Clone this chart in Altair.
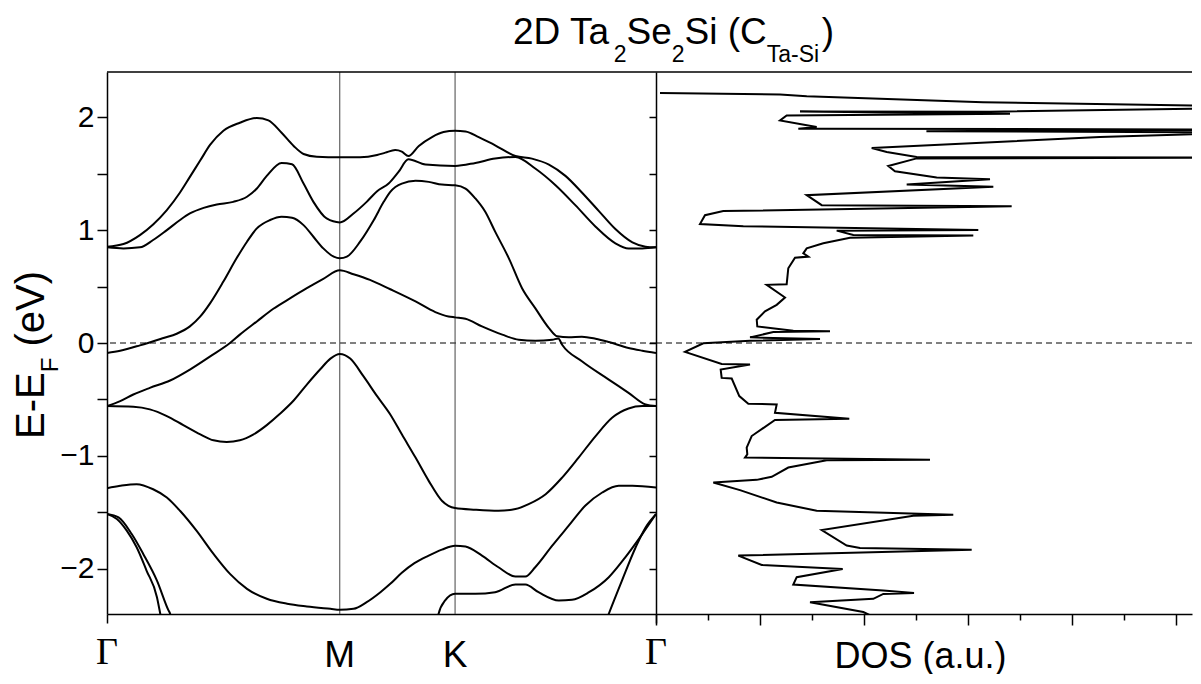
import altair as alt
import pandas as pd

# ---------------- data ----------------
K_M, K_K = 0.424, 0.634          # high-symmetry points on the path (Gamma=0, Gamma=1)

b1_k = [0, 0.030, 0.060, 0.084, 0.109, 0.133, 0.151, 0.170, 0.188, 0.212, 0.242, 0.273, 0.294, 0.318, 0.340, 0.358, 0.382, 0.424, 0.461, 0.492, 0.507, 0.525, 0.537, 0.549, 0.568, 0.592, 0.613, 0.634, 0.653, 0.677, 0.707, 0.744, 0.774, 0.805, 0.835, 0.865, 0.896, 0.926, 0.957, 0.981, 1.0]
b1_e = [0.853, 0.877, 0.956, 1.050, 1.177, 1.333, 1.471, 1.618, 1.756, 1.880, 1.951, 1.992, 1.971, 1.862, 1.745, 1.674, 1.650, 1.645, 1.645, 1.665, 1.686, 1.709, 1.695, 1.656, 1.745, 1.824, 1.868, 1.880, 1.874, 1.824, 1.751, 1.656, 1.633, 1.580, 1.480, 1.333, 1.168, 1.009, 0.891, 0.853, 0.847]

b2_k = [0, 0.030, 0.060, 0.084, 0.109, 0.133, 0.151, 0.176, 0.200, 0.230, 0.255, 0.273, 0.291, 0.318, 0.337, 0.358, 0.376, 0.400, 0.424, 0.449, 0.473, 0.492, 0.513, 0.531, 0.549, 0.580, 0.634, 0.671, 0.707, 0.744, 0.780, 0.817, 0.853, 0.890, 0.926, 0.950, 0.975, 1.0]
b2_e = [0.847, 0.838, 0.847, 0.912, 1.000, 1.089, 1.147, 1.197, 1.227, 1.250, 1.295, 1.368, 1.480, 1.595, 1.583, 1.412, 1.250, 1.103, 1.068, 1.147, 1.250, 1.344, 1.412, 1.515, 1.627, 1.580, 1.568, 1.595, 1.633, 1.648, 1.545, 1.397, 1.221, 1.030, 0.883, 0.838, 0.838, 0.847]

b3_k = [0, 0.024, 0.060, 0.103, 0.127, 0.151, 0.170, 0.188, 0.212, 0.236, 0.255, 0.273, 0.297, 0.318, 0.337, 0.358, 0.376, 0.394, 0.413, 0.424, 0.437, 0.461, 0.486, 0.504, 0.516, 0.537, 0.562, 0.586, 0.610, 0.634, 0.653, 0.671, 0.689, 0.707, 0.732, 0.756, 0.780, 0.805, 0.820, 0.841, 0.865, 0.890, 0.914, 0.950, 0.975, 1.0]
b3_e = [-0.088, -0.068, -0.021, 0.044, 0.082, 0.147, 0.235, 0.353, 0.544, 0.750, 0.897, 1.015, 1.089, 1.118, 1.109, 1.044, 0.941, 0.838, 0.765, 0.750, 0.765, 0.897, 1.089, 1.250, 1.339, 1.412, 1.436, 1.427, 1.403, 1.397, 1.368, 1.280, 1.162, 0.986, 0.750, 0.485, 0.309, 0.132, 0.059, 0.050, 0.056, 0.038, 0.009, -0.044, -0.068, -0.088]

b4_k = [0, 0.024, 0.048, 0.078, 0.115, 0.151, 0.188, 0.224, 0.242, 0.273, 0.303, 0.334, 0.364, 0.394, 0.424, 0.449, 0.479, 0.516, 0.562, 0.598, 0.622, 0.634, 0.653, 0.683, 0.720, 0.750, 0.780, 0.811, 0.822, 0.829, 0.865, 0.914, 0.950, 0.981, 1.0]
b4_e = [-0.559, -0.515, -0.456, -0.397, -0.332, -0.235, -0.118, 0.0, 0.074, 0.191, 0.303, 0.397, 0.485, 0.568, 0.644, 0.609, 0.559, 0.476, 0.368, 0.274, 0.235, 0.227, 0.215, 0.147, 0.074, 0.029, 0.021, 0.029, 0.040, -0.015, -0.162, -0.324, -0.441, -0.544, -0.559]

b5_k = [0, 0.048, 0.078, 0.109, 0.139, 0.170, 0.194, 0.218, 0.242, 0.267, 0.291, 0.315, 0.340, 0.364, 0.388, 0.407, 0.424, 0.443, 0.467, 0.492, 0.516, 0.537, 0.562, 0.586, 0.610, 0.622, 0.634, 0.671, 0.713, 0.744, 0.768, 0.799, 0.829, 0.859, 0.890, 0.920, 0.950, 0.975, 1.0]
b5_e = [-0.559, -0.565, -0.588, -0.647, -0.727, -0.809, -0.862, -0.877, -0.862, -0.809, -0.727, -0.627, -0.509, -0.368, -0.235, -0.138, -0.097, -0.138, -0.294, -0.471, -0.633, -0.809, -1.015, -1.221, -1.397, -1.442, -1.462, -1.477, -1.486, -1.471, -1.427, -1.339, -1.192, -1.015, -0.824, -0.662, -0.580, -0.559, -0.559]

b6_k = [0, 0.024, 0.054, 0.084, 0.109, 0.133, 0.163, 0.194, 0.224, 0.255, 0.291, 0.328, 0.364, 0.407, 0.424, 0.449, 0.473, 0.498, 0.516, 0.537, 0.560, 0.585, 0.610, 0.634, 0.653, 0.683, 0.713, 0.744, 0.762, 0.780, 0.811, 0.841, 0.871, 0.902, 0.932, 0.957, 1.0]
b6_e = [-1.286, -1.265, -1.250, -1.295, -1.368, -1.486, -1.662, -1.868, -2.045, -2.177, -2.265, -2.309, -2.333, -2.354, -2.362, -2.354, -2.295, -2.207, -2.133, -2.035, -1.950, -1.885, -1.830, -1.795, -1.803, -1.883, -1.986, -2.068, -2.068, -1.986, -1.795, -1.618, -1.442, -1.324, -1.265, -1.265, -1.280]

b7_k = [0.600, 0.604, 0.616, 0.634, 0.671, 0.707, 0.744, 0.762, 0.786, 0.823, 0.847, 0.878, 0.914, 0.944, 0.975, 1.0]
b7_e = [-2.500, -2.398, -2.280, -2.221, -2.221, -2.207, -2.139, -2.139, -2.207, -2.280, -2.274, -2.207, -2.074, -1.898, -1.692, -1.515]

b8_k = [0.906, 0.914, 0.938, 0.963, 0.981, 1.0]
b8_e = [-2.500, -2.398, -2.104, -1.809, -1.633, -1.515]

b9_k = [0, 0.018, 0.036, 0.054, 0.072, 0.091, 0.097, 0.101]
b9_e = [-1.515, -1.559, -1.662, -1.809, -2.015, -2.251, -2.398, -2.500]

b10_k = [0, 0.021, 0.045, 0.066, 0.091, 0.112, 0.115, 0.118]
b10_e = [-1.515, -1.545, -1.692, -1.868, -2.104, -2.368, -2.398, -2.500]

dos_e = [2.215, 2.20, 2.186, 2.133, 2.095, 2.083, 2.048, 2.050, 2.03, 2.015,
         1.971, 1.912, 1.898, 1.898, 1.89, 1.875, 1.865, 1.824, 1.727, 1.692,
         1.648, 1.641, 1.635, 1.568, 1.521, 1.465, 1.45, 1.403, 1.383, 1.309,
         1.221, 1.212, 1.168, 1.132, 1.053, 1.035, 1.0, 0.995, 0.956, 0.951,
         0.933, 0.883, 0.838, 0.794, 0.765, 0.756, 0.662, 0.521, 0.515, 0.403,
         0.338, 0.280, 0.206, 0.147, 0.109, 0.103, 0.097, 0.050, 0.035, 0.02,
         -0.003, -0.079, -0.185, -0.191, -0.235, -0.309, -0.315, -0.47, -0.538, -0.544,
         -0.618, -0.671, -0.682, -0.824, -0.927, -0.986, -1.015, -1.035, -1.039, -1.103,
         -1.185, -1.212, -1.236, -1.303, -1.412, -1.486, -1.521, -1.53, -1.656, -1.794,
         -1.815, -1.83, -1.883, -1.966, -2.001, -2.074, -2.139, -2.192, -2.213, -2.222,
         -2.266, -2.295, -2.383, -2.45]
dos_v = [0.077, 2.385, 2.898, 6.288, 11.5, 11.5, 6.423, 2.769, 6.808, 2.513,
         2.385, 3.090, 2.737, 3.121, 11.5, 5.2, 11.5, 8.538, 4.148, 4.437,
         5.013, 11.5, 5.013, 4.467, 4.596, 5.398, 6.423, 4.821, 6.487, 2.898,
         3.187, 6.840, 1.294, 0.942, 0.846, 1.679, 6.198, 3.475, 3.794, 6.102,
         3.731, 3.217, 2.898, 2.833, 2.929, 2.673, 2.544, 2.513, 2.129, 2.481,
         2.321, 2.096, 1.937, 1.948, 2.640, 3.346, 2.256, 1.808, 3.154, 1.808,
         0.910, 0.558, 1.263, 1.808, 1.244, 1.263, 1.456, 1.602, 1.775, 2.321,
         2.288, 3.717, 2.288, 1.840, 1.744, 1.756, 1.712, 5.269, 3.283, 2.544,
         2.225, 1.937, 1.102, 1.615, 2.321, 3.090, 5.717, 4.948, 3.187, 3.667,
         3.923, 6.071, 1.583, 2.033, 3.590, 2.706, 2.640, 4.371, 4.962, 4.371,
         4.179, 2.962, 3.987, 4.3]

kpt_k = [0, K_M, K_K, 1]
kpt_lab = ["\u0393", "M", "K", "\u0393"]
ytick_vals = [-2, -1.5, -1, -0.5, 0, 0.5, 1, 1.5, 2]
dos_tick_vals = list(range(0, 11))

title_parts = ["2D Ta", "2", "Se", "2", "Si (C", "Ta-Si", ")"]
title_sub = [0, 1, 0, 1, 0, 1, 0]
ytitle_parts = ["E-E", "F", " (eV)"]
ytitle_sub = [0, 1, 0]

# ---------------- tables ----------------
bands = [b1_k, b1_e, b2_k, b2_e, b3_k, b3_e, b4_k, b4_e, b5_k, b5_e,
         b6_k, b6_e, b7_k, b7_e, b8_k, b8_e, b9_k, b9_e, b10_k, b10_e]
rows = []
for n in range(0, len(bands), 2):
    for i, (k, e) in enumerate(zip(bands[n], bands[n + 1])):
        rows.append({"band": f"b{n // 2 + 1}", "i": i, "k": k, "E": e})
band_df = pd.DataFrame(rows)
dos_df = pd.DataFrame({"i": list(range(len(dos_e))), "d": dos_v, "E": dos_e})
gam_df = pd.DataFrame({"k": [kpt_k[0], kpt_k[3]], "lab": [kpt_lab[0], kpt_lab[3]]})
mk_df = pd.DataFrame({"k": kpt_k[1:3], "lab": kpt_lab[1:3]})
sym_df = pd.DataFrame({"k": [K_M, K_K]})
ef_df = pd.DataFrame({"E": [0.0]})
one = pd.DataFrame({"a": [0]})

# ---------------- layout ----------------
W1, W2, H = 549, 536, 542
UNIT = 52.0
SANS, SERIF = "Liberation Sans", "Liberation Serif"
AW = {'2': 556, 'D': 722, ' ': 278, 'T': 611, 'a': 556, 'S': 667, 'e': 556, 'i': 222,
      '(': 333, 'C': 722, ')': 333, '-': 333, 'E': 667, 'F': 611, 'V': 667}


def tw(s, size):
    return sum(AW[c] for c in s) * size / 1000.0


def rich_text(parts, subs, big, small, shift, x0, y0, angle=None, center_len=False):
    offs, off = [], 0.0
    for p, s in zip(parts, subs):
        size = small if s else big
        lead = len(p) - len(p.lstrip(" "))
        off += tw(" " * lead, size)
        offs.append((p.lstrip(" "), size, off, shift if s else 0))
        off += tw(p.lstrip(" "), size)
    total = off
    layers = []
    for txt, size, o, dy in offs:
        kw = dict(text=txt, font=SANS, fontSize=size, align="left", baseline="alphabetic",
                  color="black", dx=o, dy=dy)
        if angle is not None:
            kw["angle"] = angle
        yy = y0 + total / 2 if center_len else y0
        layers.append(alt.Chart(one).mark_text(**kw).encode(x=alt.value(x0), y=alt.value(yy)))
    return layers


yscale = alt.Scale(domain=[-2.4, 2.4], nice=False, zero=False)
common_axis = dict(grid=False, tickColor="black", tickWidth=1.5, domainColor="black", domainWidth=1.5)

x_band = alt.X("k:Q", scale=alt.Scale(domain=[0, 1], nice=False, zero=False),
               axis=alt.Axis(values=[0, 1], labels=False, title=None, tickSize=9, **common_axis))
y_band = alt.Y("E:Q", scale=yscale,
               axis=alt.Axis(values=ytick_vals, title=None, tickSize=10, labelFont=SANS,
                             labelFontSize=30, labelColor="black", labelPadding=3,
                             labelOverlap=False, labelBound=False,
                             labelExpr="abs(datum.value % 1) > 0.01 ? '' : (datum.value < 0 ? '\u2212' + abs(datum.value) : '' + datum.value)",
                             **common_axis))

band_lines = alt.Chart(band_df).mark_line(color="black", strokeWidth=2, clip=True,
                                          interpolate="monotone").encode(
    x=x_band, y=y_band, detail="band:N", order="i:Q")
sym_lines = alt.Chart(sym_df).mark_rule(color="#444444", strokeWidth=1).encode(x=x_band)
ef_band = alt.Chart(ef_df).mark_rule(color="black", strokeWidth=1, strokeDash=[6, 4]).encode(y=y_band)
top_border = alt.Chart(one).mark_rule(color="black", strokeWidth=1.5).encode(
    x=alt.value(0), x2=alt.value(W1 + W2), y=alt.value(0))
gam_lab = alt.Chart(gam_df).mark_text(font=SERIF, fontSize=38, align="center",
                                       baseline="alphabetic", color="black").encode(
    x=x_band, y=alt.value(H + 50), text="lab:N")
mk_lab = alt.Chart(mk_df).mark_text(font=SANS, fontSize=37, align="center",
                                     baseline="alphabetic", color="black").encode(
    x=x_band, y=alt.value(H + 53), text="lab:N")

title_layers = rich_text(title_parts, title_sub, 37, 23, 18, 406, -28)
ytitle_layers = rich_text(ytitle_parts, ytitle_sub, 40, 24, 14, -63, H / 2 + 12,
                          angle=270, center_len=True)

band_panel = alt.layer(ef_band, sym_lines, band_lines, top_border, gam_lab, mk_lab,
                       *title_layers, *ytitle_layers).properties(width=W1, height=H)

x_dos = alt.X("d:Q", scale=alt.Scale(domain=[0, W2 / UNIT], nice=False, zero=False),
              axis=alt.Axis(values=dos_tick_vals, labels=False, title="DOS (a.u.)",
                            titleFont=SANS, titleFontSize=36, titleFontWeight="normal",
                            titleColor="black", titleBaseline="alphabetic",
                            titleX=264, titleY=53, titleAlign="center",
                            tickSize={"condition": {"test": "datum.value % 2 === 0", "value": 11}, "value": 6},
                            **common_axis))
y_dos = alt.Y("E:Q", scale=yscale,
              axis=alt.Axis(values=ytick_vals, labels=False, title=None, tickSize=7, **common_axis))

dos_line = alt.Chart(dos_df).mark_line(color="black", strokeWidth=2, clip=True).encode(
    x=x_dos, y=y_dos, order="i:Q")
ef_dos = alt.Chart(ef_df).mark_rule(color="black", strokeWidth=1, strokeDash=[6, 4]).encode(y=y_dos)

dos_panel = alt.layer(ef_dos, dos_line).properties(width=W2, height=H)

chart = alt.hconcat(band_panel, dos_panel, spacing=0, bounds="flush").properties(
    padding={"left": 4, "top": 6, "right": 0, "bottom": 0}
).configure_view(stroke=None)

chart.save("out.html", embed_options={"renderer": "svg", "actions": False})
